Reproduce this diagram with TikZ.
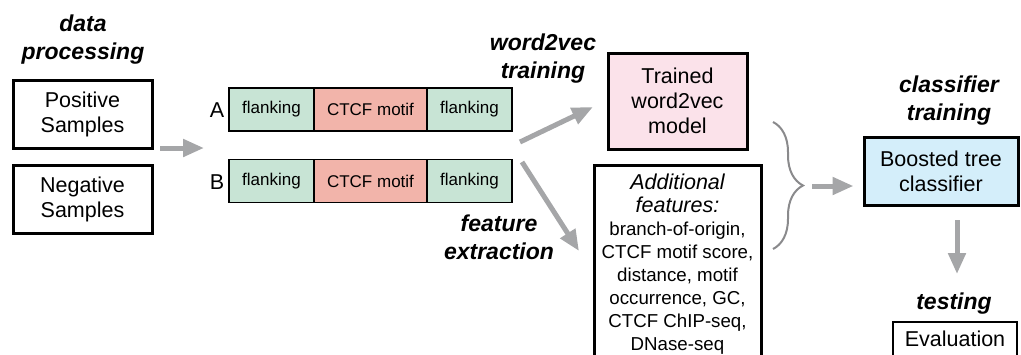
\documentclass[tikz,border=0pt]{standalone}
\usepackage{fontspec}
\setmainfont{Liberation Sans}
\usetikzlibrary{arrows.meta,decorations.pathreplacing}

\definecolor{flankgreen}{HTML}{C8E4D5}
\definecolor{motifred}{HTML}{F2B4AA}
\definecolor{trainpink}{HTML}{FBE2EA}
\definecolor{boostblue}{HTML}{D4EEFA}
\definecolor{arrowgray}{HTML}{A5A6A8}
\definecolor{bracegray}{HTML}{8A8A8C}

\newcommand\mainfs{\fontsize{21.5}{25}\selectfont}
\newcommand\segfs{\fontsize{17}{20}\selectfont}
\newcommand\featfs{\fontsize{18.7}{23}\selectfont}
\newcommand\stagefs{\fontsize{23}{27.5}\selectfont\bfseries\itshape}

\begin{document}
\begin{tikzpicture}[x=1pt, y=1pt, >={Triangle[length=21pt,width=17pt]},
		stepbox/.style={draw, line width=3pt, align=center, font=\mainfs},
		seg/.style={draw, line width=1.4pt, minimum height=43pt, inner sep=0pt, font=\segfs},
		stage/.style={align=center, inner sep=0pt, anchor=north, font=\stagefs},
		flow/.style={->, line width=5pt, draw=arrowgray}]
				\useasboundingbox (0,0) rectangle (1021,-354);
				\clip (0,0) rectangle (1021,-354);
				\node[stage] (lbData) at (83,-15)  {data\\processing};
				\node[stage] (lbW2v)  at (543,-34) {word2vec\\training};
				\node[stage] (lbFeat) at (499,-215) {feature\\extraction};
				\node[stage] (lbClf)  at (949,-76) {classifier\\training};
				\node[stage] (lbTest) at (954,-293) {testing};
				\node[stepbox, minimum width=139pt, minimum height=68pt] (pos) at (82.5,-114.5) {Positive\\Samples};
				\node[stepbox, minimum width=139pt, minimum height=68pt] (neg) at (82.5,-199) {Negative\\Samples};
				\foreach \row/\yy in {A/-109.5,B/-181}{
					\node[font=\mainfs, inner sep=0pt] (lab\row) at (217,\yy-1) {\row};
					\node[seg, fill=flankgreen, minimum width=85pt]  (\row fl) at (271.5,\yy) {flanking};
					\node[seg, fill=motifred, minimum width=113pt]   (\row mo) at (370.5,\yy) {CTCF motif};
					\node[seg, fill=flankgreen, minimum width=85pt]  (\row fr) at (469.5,\yy) {flanking};
				}
				\node[stepbox, fill=trainpink, minimum width=139pt, minimum height=96pt] (w2v) at (677.5,-101) {Trained\\word2vec\\model};
				\node[stepbox, anchor=north, minimum width=167pt, inner ysep=9pt, font=\featfs] (feat) at (677.5,-163.5)
					{{\mainfs\itshape Additional}\\{\mainfs\itshape features:}\\branch-of-origin,\\CTCF motif score,\\distance, motif\\occurrence, GC,\\CTCF ChIP-seq,\\DNase-seq};
				\node[stepbox, fill=boostblue, minimum width=154pt, minimum height=68pt] (bst) at (941,-171) {Boosted tree\\classifier};
				\node[stepbox, line width=2.5pt, anchor=north, minimum width=124pt, inner ysep=9pt, text depth=12pt] (eval) at (955,-320.5) {Evaluation};
				\coordinate (inS) at (160,-148);
				\coordinate (inE) at (204,-148);
				\coordinate (upS) at (520,-142);
				\coordinate (upE) at (593,-107);
				\coordinate (dnS) at (522,-162);
				\coordinate (dnE) at (579,-251);
				\coordinate (brT) at (773,-122);
				\coordinate (brB) at (773,-249);
				\coordinate (brE) at (812,-186);
				\coordinate (tsS) at (957,-220);
				\coordinate (tsE) at (957,-274);
				\draw[flow] (inS) -- (inE);
				\draw[flow] (upS) -- (upE);
				\draw[flow] (dnS) -- (dnE);
				\draw[bracegray, line width=2pt, decorate, decoration={brace, amplitude=30pt, aspect=0.5}] (brT) -- (brB);
				\draw[flow, shorten >=9pt] (brE) -- (brE -| bst.west);
				\draw[flow] (tsS) -- (tsE);
\end{tikzpicture}
\end{document}
